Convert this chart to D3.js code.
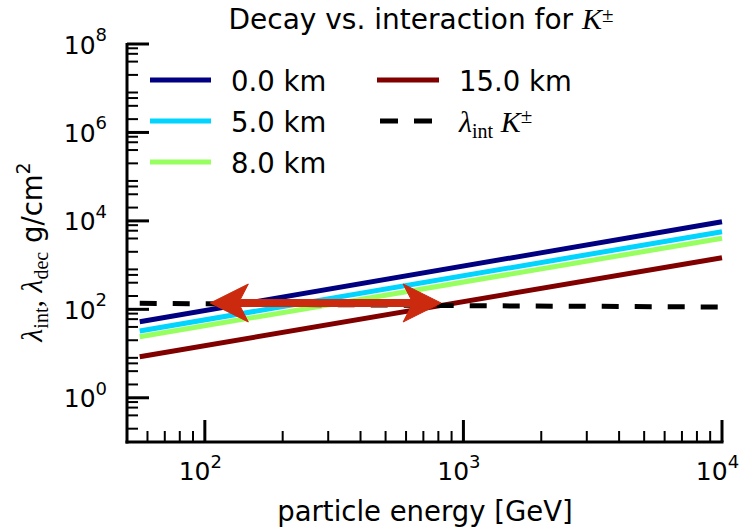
<!DOCTYPE html>
<html>
<head>
<meta charset="utf-8">
<script src="https://cdn.jsdelivr.net/npm/d3@7"></script>
<style>
  html, body { margin: 0; padding: 0; background: #fff; }
  svg { display: block; }
  text { font-family: "DejaVu Sans", sans-serif; fill: #000; }
  .math { font-family: "Liberation Serif", "DejaVu Serif", serif; }
</style>
</head>
<body>
<svg id="chart" width="743" height="531"></svg>
<script>
// Particle energy range [GeV] and plotted lengths [g/cm^2]
const energies = [56, 10000];
const altitudes = ["0.0 km", "5.0 km", "8.0 km", "15.0 km"];
const decay0km = [52.6, 9600];
const decay5km = [32.4, 5700];
const decay8km = [24, 4040];
const decay15km = [8.5, 1470];
const seriesColors = ["#000080", "#00d4ff", "#97ff60", "#800000"];

// Interaction length of K± in air
const intEnergies = [56, 1000, 10000];
const intLength = [137, 121, 113];

// Annotation: arrow tips (energy, length)
const arrowLeft = [105, 139];
const arrowRight = [820, 139];

const xTickValues = [1e2, 1e3, 1e4];
const xTickExponents = ["2", "3", "4"];
const yTickValues = [1e0, 1e2, 1e4, 1e6, 1e8];
const yTickExponents = ["0", "2", "4", "6", "8"];

const svg = d3.select("#chart");
const mLeft = 127, mRight = 722, mTop = 44, mBottom = 442;

const x = d3.scaleLog().domain([50, 1e4]).range([mLeft, mRight]);
const y = d3.scaleLog().domain([0.1, 1e8]).range([mBottom, mTop]);

// Minor tick positions
const xMinor = [];
[10, 100, 1000].forEach(d => { for (let k = 2; k <= 9; k++) { const v = k * d; if (v > 50 && v < 1e4) xMinor.push(v); } });
const yMinor = [];
for (let n = -1; n <= 7; n++) { [2, 4, 6, 8].forEach(k => yMinor.push(k * Math.pow(10, n))); }

// Data series
const decaySeries = [decay0km, decay5km, decay8km, decay15km];
const line = d3.line().x(d => x(d[0])).y(d => y(d[1]));

const plot = svg.append("g");
decaySeries.forEach((vals, i) => {
  plot.append("path")
    .attr("d", line(energies.map((e, j) => [e, vals[j]])))
    .attr("fill", "none")
    .attr("stroke", seriesColors[i])
    .attr("stroke-width", 5);
});
plot.append("path")
  .attr("d", line(intEnergies.map((e, j) => [e, intLength[j]])))
  .attr("fill", "none")
  .attr("stroke", "#000")
  .attr("stroke-width", 5)
  .attr("stroke-dasharray", "17,16");

// Double-headed arrow
const arrowColor = "#cc2a0e";
const ax0 = x(arrowLeft[0]), ax1 = x(arrowRight[0]), ay = y(arrowLeft[1]);
const hl = 38, hw = 19, notch = 30, sw = 3.5;
const arrowPath = [
  [ax0, ay],
  [ax0 + hl, ay - hw],
  [ax0 + notch, ay - sw],
  [ax1 - notch, ay - sw],
  [ax1 - hl, ay - hw],
  [ax1, ay],
  [ax1 - hl, ay + hw],
  [ax1 - notch, ay + sw],
  [ax0 + notch, ay + sw],
  [ax0 + hl, ay + hw]
];
plot.append("path")
  .attr("d", d3.line()(arrowPath) + "Z")
  .attr("fill", arrowColor)
  .attr("stroke", arrowColor)
  .attr("stroke-width", 1)
  .attr("stroke-linejoin", "miter");

// Axes: left and bottom spines with inward ticks
const axes = svg.append("g").attr("stroke", "#000");
axes.append("line").attr("x1", mLeft).attr("x2", mLeft).attr("y1", mTop - 1).attr("y2", mBottom + 1.5).attr("stroke-width", 3);
axes.append("line").attr("x1", mLeft - 1.5).attr("x2", mRight + 1.5).attr("y1", mBottom).attr("y2", mBottom).attr("stroke-width", 3);

xTickValues.forEach(v => axes.append("line").attr("x1", x(v)).attr("x2", x(v)).attr("y1", mBottom).attr("y2", mBottom - 22).attr("stroke-width", 3));
xMinor.forEach(v => axes.append("line").attr("x1", x(v)).attr("x2", x(v)).attr("y1", mBottom).attr("y2", mBottom - 11).attr("stroke-width", 2));
yTickValues.forEach(v => axes.append("line").attr("x1", mLeft).attr("x2", mLeft + 22).attr("y1", y(v)).attr("y2", y(v)).attr("stroke-width", 3));
yMinor.forEach(v => { if (v > 0.1 && v < 1e8) axes.append("line").attr("x1", mLeft).attr("x2", mLeft + 11).attr("y1", y(v)).attr("y2", y(v)).attr("stroke-width", 2); });

// Tick labels
xTickValues.forEach((v, i) => {
  const t = svg.append("text").attr("x", x(v) - 4.5).attr("y", 480).attr("text-anchor", "middle").style("font-size", "25px");
  t.append("tspan").text("10");
  t.append("tspan").attr("dy", -12.5).style("font-size", "18px").text(xTickExponents[i]);
});
yTickValues.forEach((v, i) => {
  const t = svg.append("text").attr("x", 107).attr("y", y(v) + 9.5).attr("text-anchor", "end").style("font-size", "25px");
  t.append("tspan").text("10");
  t.append("tspan").attr("dy", -12.5).style("font-size", "18px").text(yTickExponents[i]);
});

// Title
const title = svg.append("text").attr("x", 421).attr("y", 29).attr("text-anchor", "middle").style("font-size", "28px");
title.append("tspan").text("Decay vs. interaction for ");
title.append("tspan").attr("class", "math").style("font-style", "italic").style("font-size", "30px").text("K");
title.append("tspan").attr("class", "math").attr("dy", -7).style("font-size", "21px").text("±");

// Axis labels
svg.append("text").attr("x", 425).attr("y", 521).attr("text-anchor", "middle").style("font-size", "27.5px").text("particle energy [GeV]");

const yl = svg.append("text").attr("transform", "translate(41.5,252) rotate(-90)").attr("text-anchor", "middle").style("font-size", "27.5px");
yl.append("tspan").attr("class", "math").style("font-style", "italic").style("font-size", "30px").text("λ");
yl.append("tspan").attr("class", "math").attr("dy", 6).style("font-size", "20px").text("int");
yl.append("tspan").attr("class", "math").attr("dy", -6).style("font-size", "30px").text(", ");
yl.append("tspan").attr("class", "math").style("font-style", "italic").style("font-size", "30px").text("λ");
yl.append("tspan").attr("class", "math").attr("dy", 6).style("font-size", "20px").text("dec");
yl.append("tspan").attr("dy", -6).text(" g/cm");
yl.append("tspan").attr("dy", -12).style("font-size", "19px").text("2");

// Legend
const legend = svg.append("g");
const legendRows = [
  { x0: 150, x1: 211, tx: 231, y: 80 },
  { x0: 150, x1: 211, tx: 231, y: 121 },
  { x0: 150, x1: 211, tx: 231, y: 162 },
  { x0: 377, x1: 439, tx: 459, y: 80 }
];
altitudes.forEach((label, i) => {
  const r = legendRows[i];
  legend.append("line").attr("x1", r.x0).attr("x2", r.x1).attr("y1", r.y).attr("y2", r.y)
    .attr("stroke", seriesColors[i]).attr("stroke-width", 5);
  legend.append("text").attr("x", r.tx).attr("y", r.y + 10.5).style("font-size", "27.5px").text(label);
});
legend.append("line").attr("x1", 380).attr("x2", 432).attr("y1", 121).attr("y2", 121)
  .attr("stroke", "#000").attr("stroke-width", 5).attr("stroke-dasharray", "18,16");
const lt = legend.append("text").attr("x", 459).attr("y", 132).attr("class", "math").style("font-size", "30px");
lt.append("tspan").style("font-style", "italic").text("λ");
lt.append("tspan").attr("dy", 6).style("font-size", "20px").text("int");
lt.append("tspan").attr("dy", -6).text(" ");
lt.append("tspan").style("font-style", "italic").text("K");
lt.append("tspan").attr("dy", -9).style("font-size", "21px").text("±");
</script>
</body>
</html>
